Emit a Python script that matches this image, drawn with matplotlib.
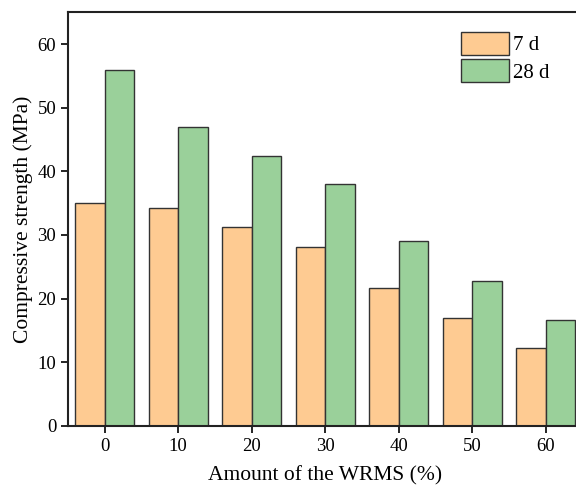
import matplotlib.pyplot as plt
import numpy as np

plt.rcParams['font.family'] = ['Liberation Serif', 'DejaVu Serif']

amount = [0, 10, 20, 30, 40, 50, 60]
strength_7d = [35.0, 34.3, 31.2, 28.1, 21.6, 17.0, 12.3]
strength_28d = [55.9, 46.9, 42.4, 38.0, 29.1, 22.8, 16.7]

x = np.array(amount)
w = 4

fig = plt.figure(figsize=(5.76, 4.90), dpi=100)
ax = fig.add_axes([0.118, 0.131, 0.893, 0.844])

ax.bar(x - w / 2, strength_7d, width=w, color='#FECB92', edgecolor='#333333',
       linewidth=1.0, label='7 d')
ax.bar(x + w / 2, strength_28d, width=w, color='#9AD09A', edgecolor='#333333',
       linewidth=1.0, label='28 d')

ax.set_xlim(-5, 65)
ax.set_ylim(0, 65)
ax.set_xticks(amount)
ax.set_yticks(range(0, 61, 10))
ax.tick_params(labelsize=13.5, length=5, width=1.2, direction='out')
for s in ax.spines.values():
    s.set_linewidth(1.5)
    s.set_color('#222222')

ax.set_xlabel('Amount of the WRMS (%)', fontsize=15.5, labelpad=8)
ax.set_ylabel('Compressive strength (MPa)', fontsize=15.5, labelpad=3)

ax.legend(loc='upper left', bbox_to_anchor=(0.764, 0.952), frameon=False,
          fontsize=15, handlelength=2.3, handleheight=1.3, labelspacing=0.18,
          handletextpad=0.2, borderaxespad=0, borderpad=0)

fig.savefig('out.png', dpi=100)
